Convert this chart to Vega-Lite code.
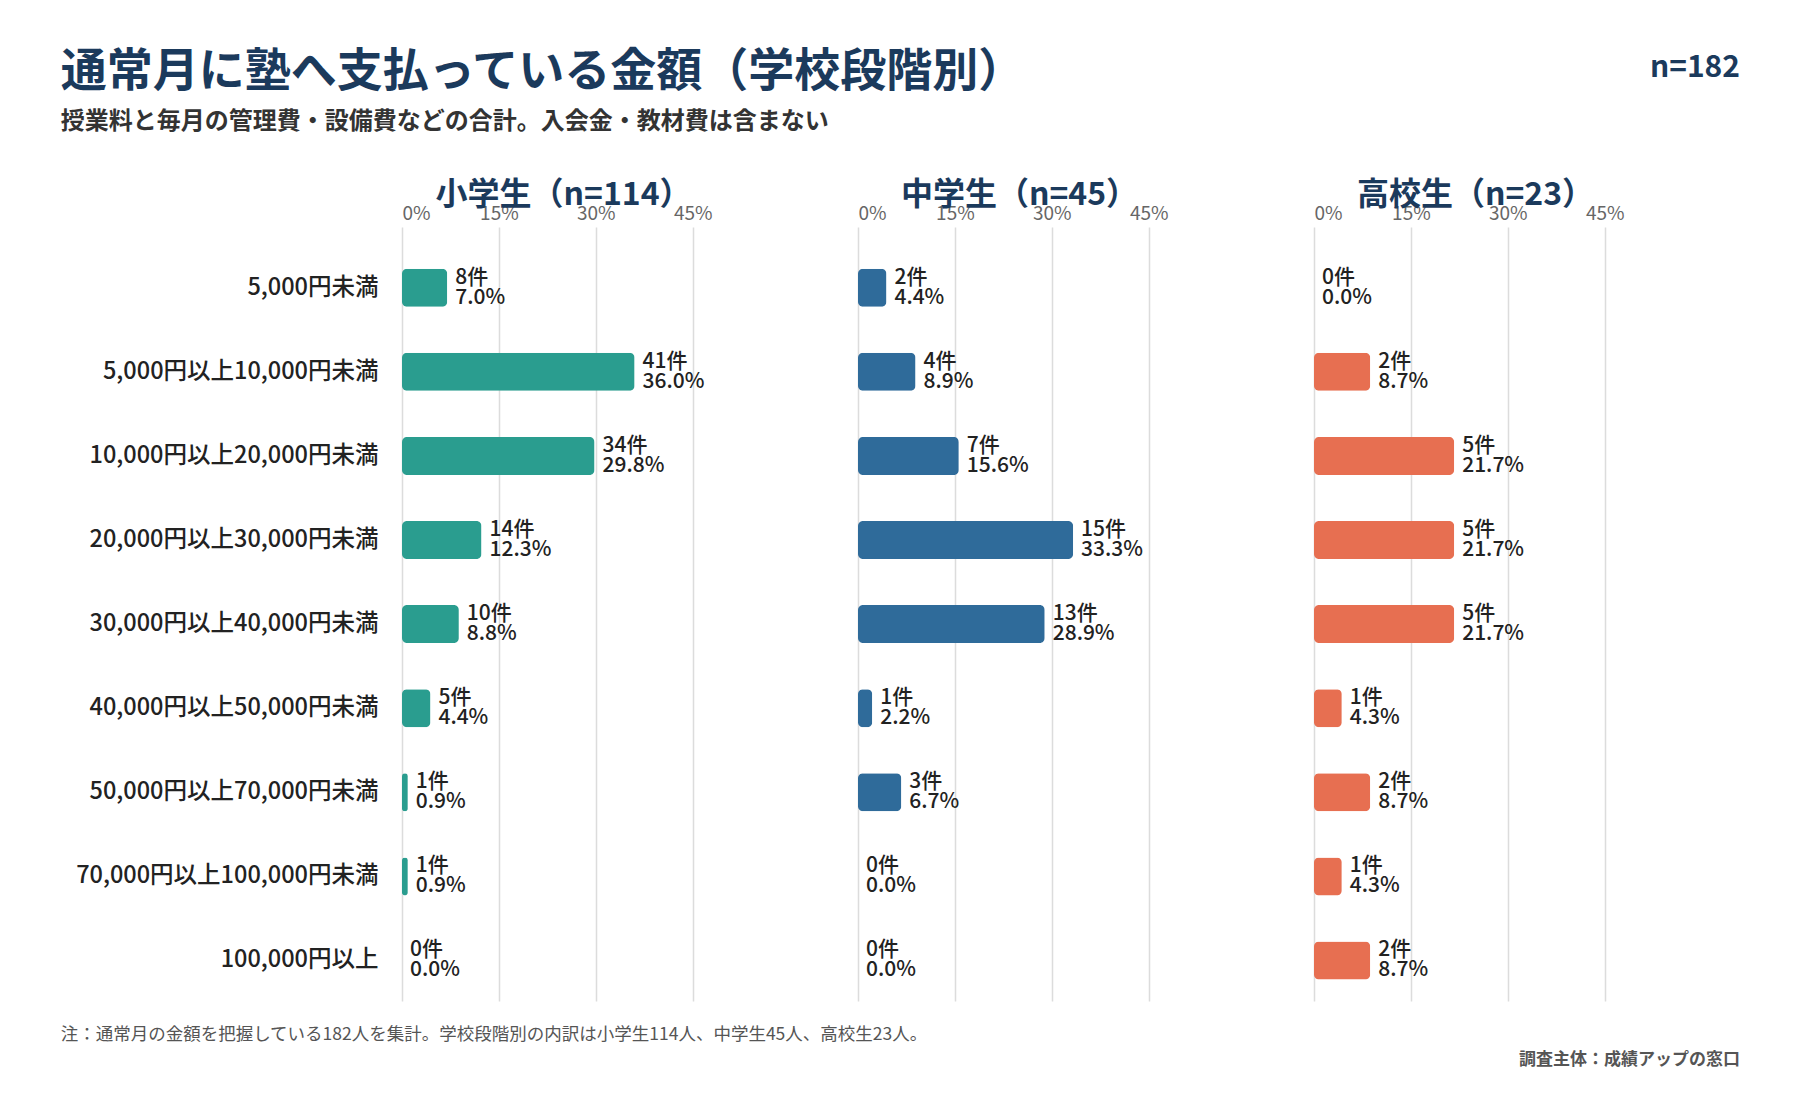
{
  "$schema": "https://vega.github.io/schema/vega-lite/v6.json",
  "background": "white",
  "padding": {"left": 60, "top": 49, "right": 40, "bottom": 20},
  "config": {
    "font": "Noto Sans CJK JP",
    "view": {"stroke": null},
    "axis": {"domain": false, "ticks": false, "tickSize": 0}
  },
  "title": {
    "text": "n=182",
    "anchor": "end",
    "offset": -34,
    "fontSize": 30,
    "fontWeight": "bold",
    "color": "#1b3a5c"
  },
  "vconcat": [
    {
      "title": {
        "text": "通常月に塾へ支払っている金額（学校段階別）",
        "subtitle": "授業料と毎月の管理費・設備費などの合計。入会金・教材費は含まない",
        "anchor": "start",
        "fontSize": 46,
        "fontWeight": "bold",
        "color": "#1b3a5c",
        "subtitleFontSize": 24,
        "subtitleFontWeight": "bold",
        "subtitleColor": "#333333",
        "subtitlePadding": 14,
        "offset": 44
      },
      "vconcat": [
        {
          "title": {
            "text": "調査主体：成績アップの窓口",
            "orient": "bottom",
            "anchor": "end",
            "dx": 103,
            "fontSize": 17,
            "fontWeight": "bold",
            "color": "#555555",
            "offset": 8
          },
          "vconcat": [
            {
              "title": {
                "text": "注：通常月の金額を把握している182人を集計。学校段階別の内訳は小学生114人、中学生45人、高校生23人。",
                "orient": "bottom",
                "anchor": "start",
                "dx": -15,
                "fontSize": 17.5,
                "fontWeight": "normal",
                "color": "#555555",
                "offset": 25
              },
              "data": {
                "values": [
                  {"school": "小学生（n=114）", "band": "5,000円未満", "n": 8, "pct": 0.070},
                  {"school": "小学生（n=114）", "band": "5,000円以上10,000円未満", "n": 41, "pct": 0.360},
                  {"school": "小学生（n=114）", "band": "10,000円以上20,000円未満", "n": 34, "pct": 0.298},
                  {"school": "小学生（n=114）", "band": "20,000円以上30,000円未満", "n": 14, "pct": 0.123},
                  {"school": "小学生（n=114）", "band": "30,000円以上40,000円未満", "n": 10, "pct": 0.088},
                  {"school": "小学生（n=114）", "band": "40,000円以上50,000円未満", "n": 5, "pct": 0.044},
                  {"school": "小学生（n=114）", "band": "50,000円以上70,000円未満", "n": 1, "pct": 0.009},
                  {"school": "小学生（n=114）", "band": "70,000円以上100,000円未満", "n": 1, "pct": 0.009},
                  {"school": "小学生（n=114）", "band": "100,000円以上", "n": 0, "pct": 0.0},
                  {"school": "中学生（n=45）", "band": "5,000円未満", "n": 2, "pct": 0.044},
                  {"school": "中学生（n=45）", "band": "5,000円以上10,000円未満", "n": 4, "pct": 0.089},
                  {"school": "中学生（n=45）", "band": "10,000円以上20,000円未満", "n": 7, "pct": 0.156},
                  {"school": "中学生（n=45）", "band": "20,000円以上30,000円未満", "n": 15, "pct": 0.333},
                  {"school": "中学生（n=45）", "band": "30,000円以上40,000円未満", "n": 13, "pct": 0.289},
                  {"school": "中学生（n=45）", "band": "40,000円以上50,000円未満", "n": 1, "pct": 0.022},
                  {"school": "中学生（n=45）", "band": "50,000円以上70,000円未満", "n": 3, "pct": 0.067},
                  {"school": "中学生（n=45）", "band": "70,000円以上100,000円未満", "n": 0, "pct": 0.0},
                  {"school": "中学生（n=45）", "band": "100,000円以上", "n": 0, "pct": 0.0},
                  {"school": "高校生（n=23）", "band": "5,000円未満", "n": 0, "pct": 0.0},
                  {"school": "高校生（n=23）", "band": "5,000円以上10,000円未満", "n": 2, "pct": 0.087},
                  {"school": "高校生（n=23）", "band": "10,000円以上20,000円未満", "n": 5, "pct": 0.217},
                  {"school": "高校生（n=23）", "band": "20,000円以上30,000円未満", "n": 5, "pct": 0.217},
                  {"school": "高校生（n=23）", "band": "30,000円以上40,000円未満", "n": 5, "pct": 0.217},
                  {"school": "高校生（n=23）", "band": "40,000円以上50,000円未満", "n": 1, "pct": 0.043},
                  {"school": "高校生（n=23）", "band": "50,000円以上70,000円未満", "n": 2, "pct": 0.087},
                  {"school": "高校生（n=23）", "band": "70,000円以上100,000円未満", "n": 1, "pct": 0.043},
                  {"school": "高校生（n=23）", "band": "100,000円以上", "n": 2, "pct": 0.087}
                ]
              },
              "transform": [
                {"calculate": "datum.n + '件'", "as": "count_label"}
              ],
              "facet": {
                "column": {
                  "field": "school",
                  "type": "nominal",
                  "sort": ["小学生（n=114）", "中学生（n=45）", "高校生（n=23）"],
                  "header": {
                    "title": null,
                    "labelFontSize": 32,
                    "labelFontWeight": "bold",
                    "labelColor": "#1b3a5c",
                    "labelPadding": -8
                  }
                }
              },
              "spacing": {"column": 133},
              "spec": {
                "width": 323,
                "height": 774,
                "encoding": {
                  "y": {
                    "field": "band",
                    "type": "nominal",
                    "sort": [
                      "5,000円未満",
                      "5,000円以上10,000円未満",
                      "10,000円以上20,000円未満",
                      "20,000円以上30,000円未満",
                      "30,000円以上40,000円未満",
                      "40,000円以上50,000円未満",
                      "50,000円以上70,000円未満",
                      "70,000円以上100,000円未満",
                      "100,000円以上"
                    ],
                    "scale": {"paddingInner": 0.548, "paddingOuter": 0.376, "align": 0.66},
                    "axis": {
                      "title": null,
                      "labelFontSize": 23.5,
                      "labelFontWeight": 500,
                      "labelColor": "#222222",
                      "labelPadding": 24,
                      "labelLimit": 400
                    }
                  },
                  "x": {
                    "field": "pct",
                    "type": "quantitative",
                    "scale": {"domain": [0, 0.5]},
                    "axis": {
                      "orient": "top",
                      "title": null,
                      "values": [0, 0.15, 0.3, 0.45],
                      "format": ".0%",
                      "labelFontSize": 19,
                      "labelColor": "#666666",
                      "labelPadding": 4,
                      "grid": true,
                      "gridColor": "#dcdcdc",
                      "gridWidth": 1.5
                    }
                  }
                },
                "layer": [
                  {
                    "mark": {"type": "bar", "cornerRadius": 5},
                    "encoding": {
                      "color": {
                        "field": "school",
                        "type": "nominal",
                        "scale": {
                          "domain": ["小学生（n=114）", "中学生（n=45）", "高校生（n=23）"],
                          "range": ["#2a9d8f", "#2f6b9a", "#e76f51"]
                        },
                        "legend": null
                      }
                    }
                  },
                  {
                    "mark": {"type": "text", "align": "left", "baseline": "middle", "dx": 8, "dy": -10, "fontSize": 21, "fontWeight": 500, "color": "#222222"},
                    "encoding": {"text": {"field": "count_label"}}
                  },
                  {
                    "mark": {"type": "text", "align": "left", "baseline": "middle", "dx": 8, "dy": 10, "fontSize": 21, "fontWeight": 500, "color": "#222222"},
                    "encoding": {"text": {"field": "pct", "format": ".1%"}}
                  }
                ]
              }
            }
          ]
        }
      ]
    }
  ]
}
